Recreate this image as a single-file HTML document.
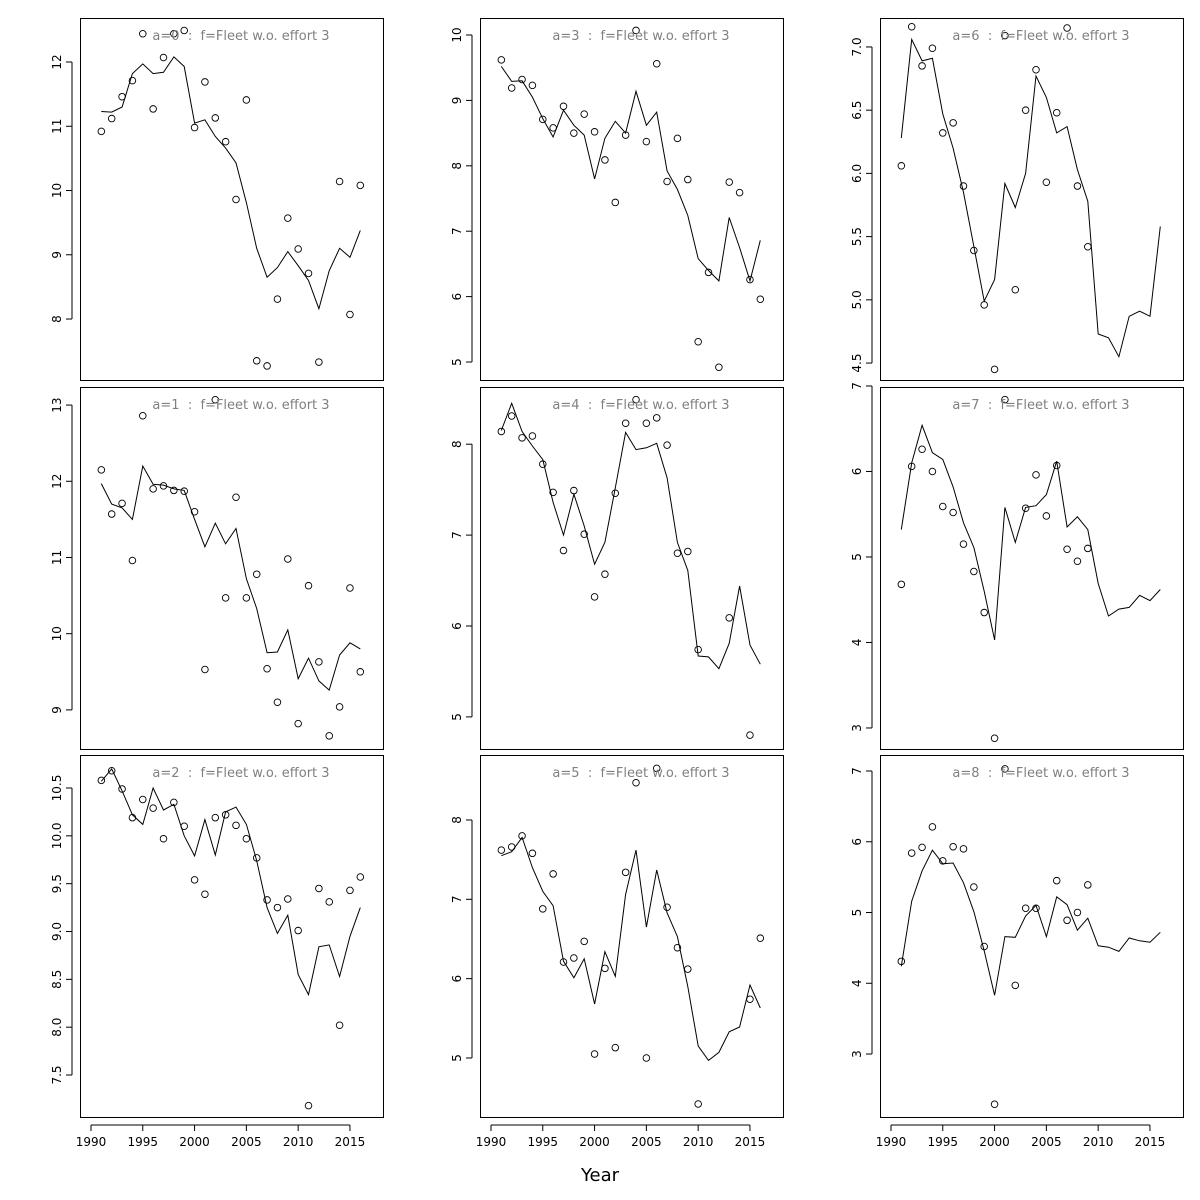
<!DOCTYPE html>
<html><head><meta charset="utf-8"><style>
html,body{margin:0;padding:0;background:#fff;}
svg{display:block;font-family:"DejaVu Sans","Liberation Sans",sans-serif;}
</style></head><body>
<svg id="chart" width="1200" height="1200" viewBox="0 0 1200 1200" xmlns="http://www.w3.org/2000/svg">
<rect width="1200" height="1200" fill="#fff"/>
<text x="600" y="1181" text-anchor="middle" font-size="18">Year</text>
</svg>
<script>
const years=[1991,1992,1993,1994,1995,1996,1997,1998,1999,2000,2001,2002,2003,2004,2005,2006,2007,2008,2009,2010,2011,2012,2013,2014,2015,2016];
const xTicks=[1990,1995,2000,2005,2010,2015];
const ages=[0,1,2,3,4,5,6,7,8];
const N=null;
const obs0=[10.92,11.12,11.46,11.71,12.44,11.27,12.07,12.44,12.49,10.98,11.69,11.13,10.76,9.86,11.41,7.35,7.27,8.31,9.57,9.09,8.71,7.33,N,10.14,8.07,10.08];
const fit0=[11.23,11.22,11.3,11.82,11.97,11.82,11.84,12.08,11.93,11.05,11.1,10.84,10.66,10.43,9.81,9.1,8.65,8.8,9.05,8.83,8.6,8.16,8.75,9.1,8.96,9.38];
const obs1=[12.15,11.57,11.71,10.96,12.86,11.9,11.94,11.88,11.87,11.6,9.53,13.07,10.47,11.79,10.47,10.78,9.54,9.1,10.98,8.82,10.63,9.63,8.66,9.04,10.6,9.5];
const fit1=[11.97,11.7,11.65,11.5,12.2,11.96,11.95,11.9,11.88,11.5,11.14,11.45,11.18,11.38,10.72,10.33,9.75,9.76,10.05,9.41,9.68,9.38,9.26,9.72,9.88,9.8];
const obs2=[10.58,10.68,10.49,10.19,10.38,10.29,9.97,10.35,10.1,9.54,9.39,10.19,10.22,10.11,9.97,9.77,9.33,9.25,9.34,9.01,7.18,9.45,9.31,8.02,9.43,9.57];
const fit2=[10.57,10.7,10.47,10.22,10.12,10.5,10.27,10.33,10.0,9.79,10.17,9.8,10.25,10.3,10.12,9.74,9.25,8.98,9.17,8.55,8.34,8.84,8.86,8.53,8.95,9.25];
const obs3=[9.62,9.19,9.32,9.23,8.71,8.58,8.91,8.5,8.79,8.52,8.09,7.44,8.47,10.07,8.37,9.56,7.76,8.42,7.79,5.31,6.37,4.92,7.75,7.59,6.26,5.96];
const fit3=[9.52,9.29,9.3,9.05,8.72,8.44,8.85,8.62,8.47,7.8,8.42,8.68,8.5,9.14,8.62,8.82,7.92,7.64,7.24,6.58,6.4,6.24,7.21,6.75,6.24,6.86];
const obs4=[8.14,8.31,8.07,8.09,7.78,7.47,6.83,7.49,7.01,6.32,6.57,7.46,8.23,8.49,8.23,8.29,7.99,6.8,6.82,5.74,N,N,6.09,N,4.8,N];
const fit4=[8.15,8.45,8.14,7.98,7.83,7.36,7.0,7.45,7.1,6.68,6.92,7.52,8.13,7.94,7.96,8.01,7.63,6.92,6.61,5.67,5.66,5.53,5.81,6.44,5.79,5.58];
const obs5=[7.62,7.66,7.8,7.58,6.88,7.32,6.21,6.26,6.47,5.05,6.13,5.13,7.34,8.47,5.0,8.65,6.9,6.39,6.12,4.42,N,N,N,N,5.74,6.51];
const fit5=[7.55,7.6,7.78,7.4,7.1,6.92,6.22,6.01,6.25,5.68,6.34,6.03,7.06,7.62,6.65,7.37,6.83,6.53,5.9,5.15,4.97,5.07,5.33,5.39,5.92,5.63];
const obs6=[6.06,7.16,6.85,6.99,6.32,6.4,5.9,5.39,4.96,4.45,7.09,5.08,6.5,6.82,5.93,6.48,7.15,5.9,5.42,N,N,N,N,N,N,N];
const fit6=[6.28,7.06,6.89,6.91,6.47,6.2,5.85,5.42,4.99,5.16,5.92,5.73,6.0,6.77,6.6,6.32,6.37,6.03,5.78,4.73,4.7,4.55,4.87,4.91,4.87,5.58];
const obs7=[4.68,6.06,6.26,6.0,5.59,5.52,5.15,4.83,4.35,2.88,6.84,N,5.57,5.96,5.48,6.07,5.09,4.95,5.1,N,N,N,N,N,N,N];
const fit7=[5.32,6.1,6.54,6.22,6.14,5.82,5.4,5.11,4.6,4.03,5.58,5.17,5.58,5.6,5.73,6.12,5.35,5.47,5.32,4.69,4.31,4.39,4.41,4.55,4.49,4.62];
const obs8=[4.31,5.84,5.92,6.21,5.73,5.93,5.9,5.36,4.52,2.29,7.03,3.97,5.06,5.06,N,5.45,4.89,5.0,5.39,N,N,N,N,N,N,N];
const fit8=[4.24,5.16,5.59,5.88,5.69,5.7,5.42,5.01,4.46,3.83,4.66,4.65,4.95,5.1,4.66,5.22,5.11,4.75,4.92,4.53,4.51,4.45,4.64,4.6,4.58,4.72];
const yTicks0=[8,9,10,11,12];
const yTicks1=[9,10,11,12,13];
const yTicks2=["7.5","8.0","8.5","9.0","9.5","10.0","10.5"];
const yTicks3=[5,6,7,8,9,10];
const yTicks4=[5,6,7,8];
const yTicks5=[5,6,7,8];
const yTicks6=["4.5","5.0","5.5","6.0","6.5","7.0"];
const yTicks7=[3,4,5,6,7];
const yTicks8=[3,4,5,6,7];
const yMax=[12.685,13.237,10.845,10.26,8.629,8.819,7.229,6.988,7.226];
const yMin=[7.051,8.487,7.061,4.725,4.647,4.256,4.366,2.754,2.11];

const OBS=[obs0,obs1,obs2,obs3,obs4,obs5,obs6,obs7,obs8];
const FIT=[fit0,fit1,fit2,fit3,fit4,fit5,fit6,fit7,fit8];
const YT=[yTicks0,yTicks1,yTicks2,yTicks3,yTicks4,yTicks5,yTicks6,yTicks7,yTicks8];
const svg=document.getElementById('chart');
const NS='http://www.w3.org/2000/svg';
function mk(t,a,p){const e=document.createElementNS(NS,t);for(const k in a)e.setAttribute(k,a[k]);(p||svg).appendChild(e);return e;}
const colL=[80,480,880], rowT=[18,387,755], W=303, H=362;
const xMin=1988.94, xMax=2018.19;
ages.forEach((a,i)=>{
  const c=Math.floor(i/3), r=i%3;
  const L=colL[c], T=rowT[r];
  const g=mk('g',{});
  
  
  const xs=v=>L+(v-xMin)/(xMax-xMin)*W;
  const ys=v=>T+(yMax[i]-v)/(yMax[i]-yMin[i])*H;
  const box=mk('rect',{x:L+0.5,y:T+0.5,width:W,height:H,fill:'none',stroke:'#000','stroke-width':1},g);
  
  
  const yt=YT[i];
  const yl=mk('line',{x1:L-8,x2:L-8,y1:ys(+yt[0]),y2:ys(+yt[yt.length-1]),stroke:'#000'},g);
  
  
  yt.forEach(t=>{
    const y=ys(+t);
    mk('line',{x1:L-14,x2:L-8,y1:y,y2:y,stroke:'#000'},g);
    const tx=mk('text',{x:L-19,y:y,'font-size':12,'text-anchor':'middle',transform:`rotate(-90 ${L-19} ${y})`},g);
    tx.textContent=t;
    
    
  });
  if(r===2){
    const xl=mk('line',{x1:xs(xTicks[0]),x2:xs(xTicks[xTicks.length-1]),y1:T+H+8,y2:T+H+8,stroke:'#000'},g);
    
    
    xTicks.forEach(t=>{
      const x=xs(t);
      mk('line',{x1:x,x2:x,y1:T+H+8,y2:T+H+14,stroke:'#000'},g);
      const tx=mk('text',{x:x,y:T+H+29,'font-size':12,'text-anchor':'middle'},g);
      tx.textContent=t;
      
      
    });
  }
  const d=FIT[i].map((v,j)=>(j?'L':'M')+xs(years[j]).toFixed(1)+','+ys(v).toFixed(1)).join(' ');
  const pl=mk('path',{d:d,fill:'none',stroke:'#000','stroke-width':1},g);
  
  
  OBS[i].forEach((v,j)=>{
    if(v===null)return;
    const ci=mk('circle',{cx:xs(years[j]),cy:ys(v),r:3.3,fill:'none',stroke:'#000','stroke-width':0.9},g);
    
    
  });
  const tt=mk('text',{x:L+W/2+9.5,y:T+22,'font-size':13,'text-anchor':'middle',fill:'#808080'},g);
  tt.textContent='a='+a+'\u00a0\u00a0:\u00a0\u00a0f=Fleet w.o. effort 3';
  
  
});
</script>
</body></html>
